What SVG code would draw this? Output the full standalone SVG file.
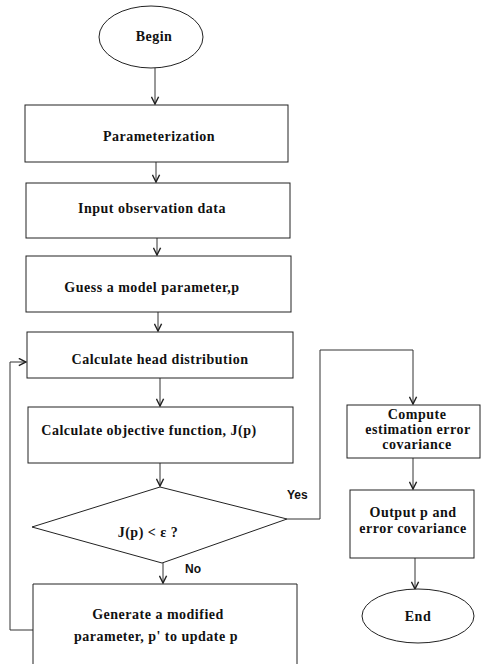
<svg xmlns="http://www.w3.org/2000/svg" width="489" height="664" viewBox="0 0 489 664">
<style>
  .shape { fill: #fff; stroke: #222; stroke-width: 1; }
  .conn { fill: none; stroke: #333; stroke-width: 1; }
  .t { font-family: "Liberation Serif", "Times New Roman", serif; font-weight: bold; font-size: 14px; letter-spacing: 0.5px; fill: #111; text-anchor: middle; }
  .lbl { font-family: "Liberation Sans", Arial, sans-serif; font-weight: bold; font-size: 12px; fill: #111; }
</style>
<defs>
  <marker id="arr" viewBox="0 0 10 10" refX="9" refY="5" markerWidth="9" markerHeight="9" markerUnits="userSpaceOnUse" orient="auto">
    <path d="M1,1 L9,5 L1,9" fill="none" stroke="#222" stroke-width="1.6"/>
  </marker>
</defs>
<rect width="489" height="664" fill="#fff"/>

<g id="connectors">
  <line class="conn" x1="155" y1="68" x2="155" y2="104" marker-end="url(#arr)"/>
  <line class="conn" x1="156" y1="162" x2="156" y2="182" marker-end="url(#arr)"/>
  <line class="conn" x1="157" y1="238" x2="157" y2="255" marker-end="url(#arr)"/>
  <line class="conn" x1="158" y1="312" x2="158" y2="331" marker-end="url(#arr)"/>
  <line class="conn" x1="160" y1="378" x2="160" y2="406" marker-end="url(#arr)"/>
  <line class="conn" x1="160" y1="463" x2="160" y2="486" marker-end="url(#arr)"/>
  <line class="conn" x1="163" y1="563" x2="163" y2="583" marker-end="url(#arr)"/>
  <polyline class="conn" points="33,630 10,630 10,362 26,362" marker-end="url(#arr)"/>
  <polyline class="conn" points="287,519 320,519 320,350 413,350 413,404" marker-end="url(#arr)"/>
  <line class="conn" x1="413" y1="458" x2="413" y2="489" marker-end="url(#arr)"/>
  <line class="conn" x1="415" y1="558" x2="415" y2="589" marker-end="url(#arr)"/>
  <text class="lbl" x="287" y="499">Yes</text>
  <text class="lbl" x="185" y="573">No</text>
</g>

<g id="begin">
  <ellipse class="shape" cx="151" cy="37" rx="52" ry="31"/>
  <text class="t" x="154" y="41">Begin</text>
</g>
<g id="parameterization">
  <rect class="shape" x="25" y="105" width="263" height="57"/>
  <text class="t" x="159" y="141">Parameterization</text>
</g>
<g id="input">
  <rect class="shape" x="26" y="183" width="264" height="55"/>
  <text class="t" x="152" y="213">Input observation data</text>
</g>
<g id="guess">
  <rect class="shape" x="26" y="256" width="265" height="56"/>
  <text class="t" x="152" y="292">Guess a model parameter,p</text>
</g>
<g id="head">
  <rect class="shape" x="27" y="332" width="266" height="46"/>
  <text class="t" x="160" y="364">Calculate head distribution</text>
</g>
<g id="objective">
  <rect class="shape" x="28" y="407" width="265" height="56"/>
  <text class="t" x="149" y="435">Calculate objective function, J(p)</text>
</g>
<g id="decision">
  <polygon class="shape" points="160,487 287,519 162,563 32,527"/>
  <text class="t" x="148" y="537">J(p) &lt; ε ?</text>
</g>
<g id="generate">
  <path class="shape" d="M33,676 L33,584 L297,584 L297,676"/>
  <text class="t" x="158" y="619">Generate a modified</text>
  <text class="t" x="156" y="641">parameter, p' to update p</text>
</g>
<g id="compute">
  <rect class="shape" x="347" y="405" width="133" height="53"/>
  <text class="t" x="417" y="419">Compute</text>
  <text class="t" x="418" y="434">estimation error</text>
  <text class="t" x="417" y="449">covariance</text>
</g>
<g id="output">
  <rect class="shape" x="350" y="490" width="124" height="68"/>
  <text class="t" x="413" y="517">Output p and</text>
  <text class="t" x="413" y="533">error covariance</text>
</g>
<g id="end">
  <ellipse class="shape" cx="418" cy="616" rx="56" ry="27"/>
  <text class="t" x="418" y="621">End</text>
</g>
</svg>
